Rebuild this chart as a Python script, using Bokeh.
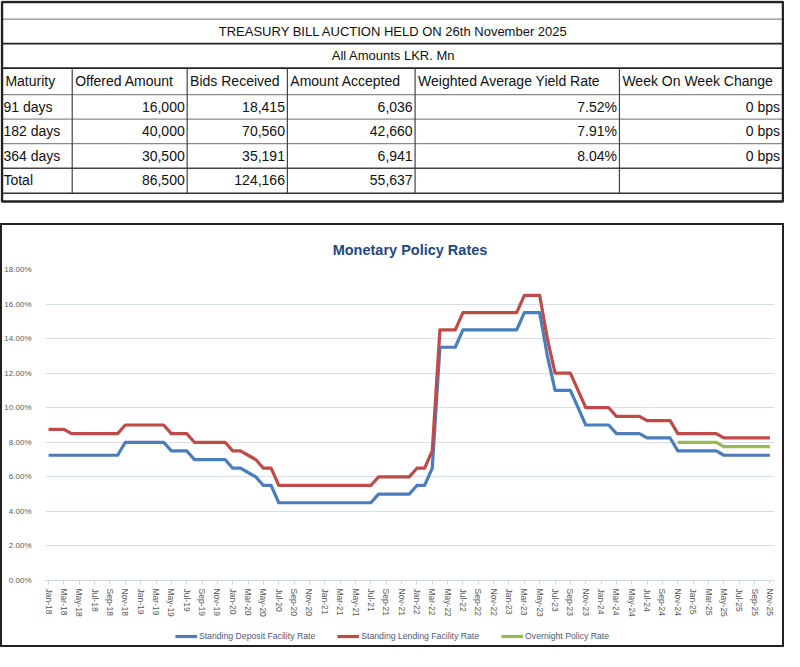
import math
from bokeh.plotting import figure
from bokeh.models import (Range1d, FixedTicker, PrintfTickFormatter, Legend,
                          LegendItem)
from bokeh.embed import file_html
from bokeh.resources import INLINE
from bokeh.core.properties import value

# ---------------- Table data ----------------
table_title = "TREASURY BILL AUCTION HELD ON 26th November 2025"
table_subtitle = "All Amounts LKR. Mn"
headers = ["Maturity", "Offered Amount", "Bids Received", "Amount Accepted",
           "Weighted Average Yield Rate", "Week On Week Change"]
maturities = ["91 days", "182 days", "364 days", "Total"]
offered = [16000, 40000, 30500, 86500]
bids = [18415, 70560, 35191, 124166]
accepted = [6036, 42660, 6941, 55637]
yield_rate = [7.52, 7.91, 8.04, None]
wow_change = [0, 0, 0, None]

# ---------------- Chart data ----------------
chart_title = "Monetary Policy Rates"
mon_names = ["Jan", "Feb", "Mar", "Apr", "May", "Jun", "Jul", "Aug", "Sep", "Oct", "Nov", "Dec"]
months = [f"{mon_names[i % 12]}-{18 + i // 12}" for i in range(95)]  # Jan-18 .. Nov-25

sdfr = [
    7.25, 7.25, 7.25, 7.25, 7.25, 7.25, 7.25, 7.25, 7.25, 7.25, 8.00, 8.00,      # 2018
    8.00, 8.00, 8.00, 8.00, 7.50, 7.50, 7.50, 7.00, 7.00, 7.00, 7.00, 7.00,      # 2019
    6.50, 6.50, 6.25, 6.00, 5.50, 5.50, 4.50, 4.50, 4.50, 4.50, 4.50, 4.50,      # 2020
    4.50, 4.50, 4.50, 4.50, 4.50, 4.50, 4.50, 5.00, 5.00, 5.00, 5.00, 5.00,      # 2021
    5.50, 5.50, 6.50, 13.50, 13.50, 13.50, 14.50, 14.50, 14.50, 14.50, 14.50, 14.50,  # 2022
    14.50, 14.50, 15.50, 15.50, 15.50, 13.00, 11.00, 11.00, 11.00, 10.00, 9.00, 9.00,  # 2023
    9.00, 9.00, 8.50, 8.50, 8.50, 8.50, 8.25, 8.25, 8.25, 8.25, 7.50, 7.50,      # 2024
    7.50, 7.50, 7.50, 7.50, 7.25, 7.25, 7.25, 7.25, 7.25, 7.25, 7.25,            # 2025
]
slfr = [
    8.75, 8.75, 8.75, 8.50, 8.50, 8.50, 8.50, 8.50, 8.50, 8.50, 9.00, 9.00,
    9.00, 9.00, 9.00, 9.00, 8.50, 8.50, 8.50, 8.00, 8.00, 8.00, 8.00, 8.00,
    7.50, 7.50, 7.25, 7.00, 6.50, 6.50, 5.50, 5.50, 5.50, 5.50, 5.50, 5.50,
    5.50, 5.50, 5.50, 5.50, 5.50, 5.50, 5.50, 6.00, 6.00, 6.00, 6.00, 6.00,
    6.50, 6.50, 7.50, 14.50, 14.50, 14.50, 15.50, 15.50, 15.50, 15.50, 15.50, 15.50,
    15.50, 15.50, 16.50, 16.50, 16.50, 14.00, 12.00, 12.00, 12.00, 11.00, 10.00, 10.00,
    10.00, 10.00, 9.50, 9.50, 9.50, 9.50, 9.25, 9.25, 9.25, 9.25, 8.50, 8.50,
    8.50, 8.50, 8.50, 8.50, 8.25, 8.25, 8.25, 8.25, 8.25, 8.25, 8.25,
]
nan = float("nan")
opr = [nan] * 82 + [8.00, 8.00, 8.00, 8.00, 8.00, 8.00,
                    7.75, 7.75, 7.75, 7.75, 7.75, 7.75, 7.75]
series_names = ["Standing Deposit Facility Rate", "Standing Lending Facility Rate",
                "Overnight Policy Rate"]
series_colors = ["#4A7EBB", "#BE4B48", "#98B954"]
tick_idx = list(range(0, 95, 2))
tick_labels = [months[i] for i in tick_idx]

FONT = "Liberation Sans"
EDGE = "#222222"

# ================= TABLE =================
W = 784
tab_h = 203
t = figure(width=W, height=tab_h, x_range=Range1d(0, 798), y_range=Range1d(207, 0),
           toolbar_location=None, output_backend="svg", min_border=0)
t.axis.visible = False
t.grid.visible = False
t.outline_line_color = None

col_x = [2, 73, 190, 292, 422, 630, 796]
row_y = [96, 121, 146, 171, 196]
t.segment(x0=[2, 2], y0=[44, 69], x1=[796, 796], y1=[44, 69], line_color="#222222", line_width=1.6)
t.segment(x0=[2] * 4, y0=[19, 96, 121, 146], x1=[796] * 4, y1=[19, 96, 121, 146],
          line_color="#8a8a8a", line_width=1.2)
t.segment(x0=[2], y0=[171], x1=[796], y1=[171], line_color="#444444", line_width=1.4)
t.segment(x0=[2], y0=[196.5], x1=[796], y1=[196.5], line_color="#333333", line_width=1.6)
t.segment(x0=col_x[1:-1], y0=[69] * 5, x1=col_x[1:-1], y1=[196.5] * 5,
          line_color="#444444", line_width=1.2)
t.quad(left=[1.5], right=[796.5], top=[1.5], bottom=[205], fill_color=None,
       line_color="#222222", line_width=2.5)

t.text(x=[400, 400], y=[31.5, 56.5], text=[table_title, table_subtitle],
       text_align="center", text_baseline="middle", text_font=value(FONT),
       text_font_size="13px", text_color="#111111")
t.text(x=[c + 3 for c in col_x[:-1]], y=[82.5] * 6, text=headers,
       text_align="left", text_baseline="middle", text_font=value(FONT),
       text_font_size="14px", text_color="#111111")
row_c = [(row_y[i] + row_y[i + 1]) / 2 for i in range(4)]
t.text(x=[3] * 4, y=row_c, text=maturities, text_align="left", text_baseline="middle",
       text_font=value(FONT), text_font_size="14px", text_color="#111111")
rx, ry, rt = [], [], []
for i in range(4):
    cells = [f"{offered[i]:,}", f"{bids[i]:,}", f"{accepted[i]:,}",
             "" if yield_rate[i] is None else f"{yield_rate[i]:.2f}%",
             "" if wow_change[i] is None else f"{wow_change[i]} bps"]
    for j, c in enumerate(cells):
        rx.append(col_x[j + 2] - 2.5)
        ry.append(row_c[i])
        rt.append(c)
t.text(x=rx, y=ry, text=rt, text_align="right", text_baseline="middle",
       text_font=value(FONT), text_font_size="14px", text_color="#111111")

# ================= CHART =================
p = figure(width=W, height=402, x_range=Range1d(-0.4, 94.6), y_range=Range1d(0, 18),
           toolbar_location=None, output_backend="svg",
           min_border_left=45, min_border_right=10, min_border_top=46, min_border_bottom=45,
           margin=(20, 0, 0, 0),
           styles={"box-shadow": f"inset 2px 0 0 {EDGE}, inset -2px 0 0 {EDGE}, inset 0 2px 0 {EDGE}"})
p.border_fill_color = None
p.background_fill_color = "white"
p.title.text = chart_title
p.title.align = "center"
p.title.text_font = FONT
p.title.text_font_size = "14.5px"
p.title.text_font_style = "bold"
p.title.text_color = "#1F497D"
p.title.standoff = 24
p.outline_line_color = None

x = list(range(len(months)))
for vals, col in zip([sdfr, slfr, opr], series_colors):
    p.line(x, vals, line_color=col, line_width=3.2, line_join="round")

p.xgrid.visible = False
p.ygrid.grid_line_color = "#D5DEEA"
p.ygrid.grid_line_width = 1
p.yaxis.ticker = FixedTicker(ticks=[0, 2, 4, 6, 8, 10, 12, 14, 16, 18])
p.yaxis.formatter = PrintfTickFormatter(format="%.2f%%")
p.yaxis.axis_line_color = None
p.yaxis.major_tick_line_color = None
p.yaxis.minor_tick_line_color = None
p.yaxis.major_label_text_font = FONT
p.yaxis.major_label_text_font_size = "8px"
p.yaxis.major_label_text_color = "#595959"
p.yaxis.major_label_standoff = 8

p.xaxis.ticker = FixedTicker(ticks=tick_idx)
p.xaxis.major_label_overrides = {i: lab for i, lab in zip(tick_idx, tick_labels)}
p.xaxis.major_label_orientation = "vertical"
p.xaxis.axis_line_color = "#D0D8E4"
p.xaxis.major_tick_line_color = "#D0D8E4"
p.xaxis.major_tick_in = 0
p.xaxis.major_tick_out = 4
p.xaxis.minor_tick_line_color = None
p.xaxis.major_label_text_font = FONT
p.xaxis.major_label_text_font_size = "8.5px"
p.xaxis.major_label_text_color = "#595959"
p.xaxis.major_label_standoff = 4

# ---- legend strip (bottom of the chart box) ----
lg = figure(width=W, height=22, x_range=Range1d(0, 1), y_range=Range1d(0, 1),
            toolbar_location=None, output_backend="svg", min_border=0,
            styles={"box-shadow": f"inset 2px 0 0 {EDGE}, inset -2px 0 0 {EDGE}, inset 0 -2px 0 {EDGE}"})
lg.axis.visible = False
lg.grid.visible = False
lg.outline_line_color = None
lg.border_fill_color = None
lg.background_fill_color = None
# proxy renderers (one undrawn point each) so the legend gets its line swatches
leg_renderers = [lg.line(x=[nan], y=[nan], line_color=c, line_width=3.2) for c in series_colors]
legend = Legend(items=[LegendItem(label=n, renderers=[r]) for n, r in zip(series_names, leg_renderers)],
                orientation="horizontal", location="center",
                glyph_width=22, glyph_height=8, label_height=14, label_standoff=2, spacing=22,
                label_text_font=FONT, label_text_font_size="8.7px",
                label_text_color="#4B5B78", border_line_color=None,
                background_fill_alpha=0, margin=0, padding=2)
lg.add_layout(legend)

open("out.html", "w").write(file_html([t, p, lg], INLINE))
